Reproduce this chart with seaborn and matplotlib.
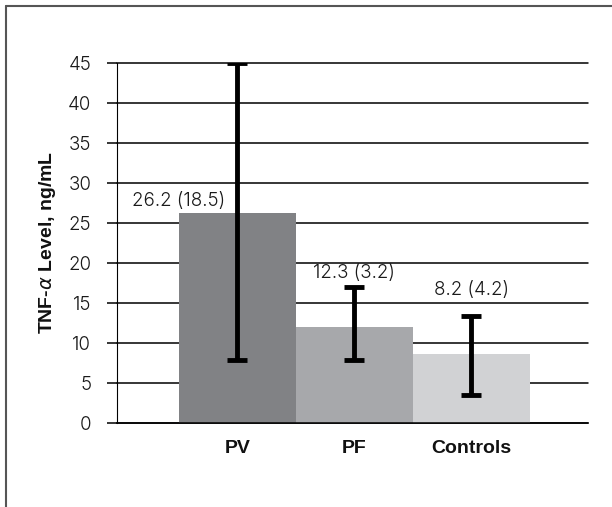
import matplotlib
matplotlib.use("Agg")
import matplotlib.pyplot as plt
import seaborn as sns
import pandas as pd
from matplotlib.lines import Line2D

# values
groups = ["PV", "PF", "Controls"]
bar_vals = [26.2, 12.0, 8.6]
err_low = [7.8, 7.8, 3.5]
err_high = [45.0, 17.0, 13.4]
labels = ["26.2 (18.5)", "12.3 (3.2)", "8.2 (4.2)"]
colors = ["#818285", "#a7a8ab", "#d1d2d4"]
yticks = [0, 5, 10, 15, 20, 25, 30, 35, 40, 45]

# where the Excel-style data labels sit (x offset, y) - layout only
label_pos = [(-0.5, 26.6), (0.0, 17.6), (0.0, 15.5)]

df = pd.DataFrame({"group": groups, "value": bar_vals})

sns.set_style("white")
plt.rcParams["font.family"] = ["Inter", "DejaVu Sans"]
plt.rcParams["font.weight"] = 300

fig = plt.figure(figsize=(6.12, 5.07), dpi=100)
ax = fig.add_axes([117 / 612, 1 - 422.7 / 507, 471 / 612, 360 / 507])

sns.barplot(data=df, x="group", y="value", hue="group", palette=colors,
            width=1.0, errorbar=None, legend=False, ax=ax, saturation=1,
            linewidth=0)

# error bars
xs = range(len(groups))
lo = [v - l for v, l in zip(bar_vals, err_low)]
hi = [h - v for v, h in zip(bar_vals, err_high)]
ax.errorbar(xs, bar_vals, yerr=[lo, hi], fmt="none", ecolor="black",
            elinewidth=3.5, capsize=7.5, capthick=3.5, zorder=5)

for i, (txt, (dx, ly)) in enumerate(zip(labels, label_pos)):
    ax.text(i + dx, ly, txt, ha="center", va="bottom", fontsize=13.5,
            color="#1a1a1a", fontweight=300)

ax.set_ylim(0, 45)
ax.set_xlim(-1.03, 3.0)
ax.set_yticks(yticks)
ax.set_yticklabels([str(t) for t in yticks], fontweight=300)
ax.yaxis.grid(True, color="black", linewidth=1.1)
ax.set_axisbelow(True)
for gl in ax.get_ygridlines():
    gl.set_clip_on(False)

for s in ["top", "right"]:
    ax.spines[s].set_visible(False)
ax.spines["left"].set_color("black")
ax.spines["left"].set_linewidth(0.8)
ax.spines["bottom"].set_color("black")
ax.spines["bottom"].set_linewidth(1.1)

ax.tick_params(axis="y", left=True, length=7.5, width=1.1, color="black",
               pad=11, labelsize=13.5, labelcolor="#1a1a1a")
ax.tick_params(axis="x", bottom=False, pad=9)
ax.set_xticks(list(xs))
ax.set_xticklabels(groups, fontsize=14, fontweight="bold",
                   family="Liberation Sans", color="#111111")

ax.set_xlabel("")
ax.set_ylabel("TNF-$\\alpha$ Level, ng/mL", fontsize=14, fontweight="bold",
              family="Liberation Sans", color="#111111")
ax.yaxis.set_label_coords(-0.125, 0.5)

# partial frame around the figure (top and left edges)
fig.add_artist(Line2D([6 / 612, 6 / 612], [0, 1 - 6 / 507],
                      transform=fig.transFigure, color="#555555", lw=1.5))
fig.add_artist(Line2D([6 / 612, 1], [1 - 6 / 507, 1 - 6 / 507],
                      transform=fig.transFigure, color="#555555", lw=1.5))

fig.savefig("out.png", dpi=100)
